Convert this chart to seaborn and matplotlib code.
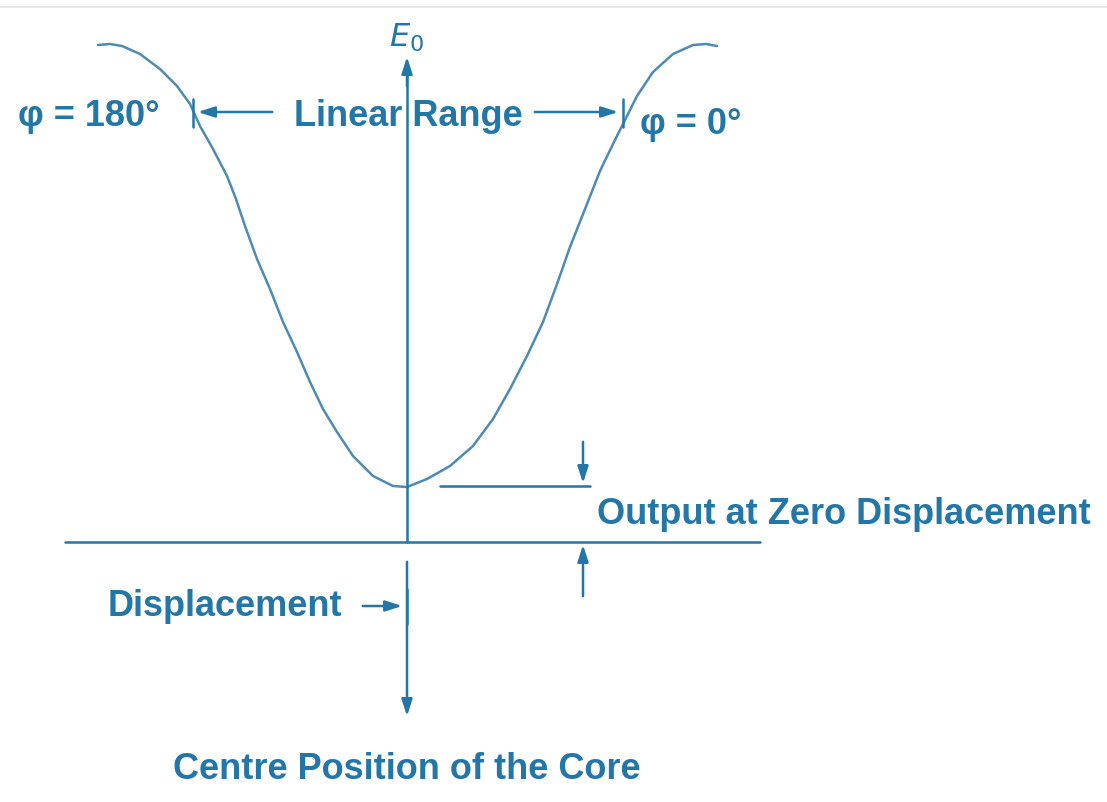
import numpy as np
import pandas as pd
import seaborn as sns
import matplotlib.pyplot as plt

# curve (pixel coords, y down)
curve_x = [98, 110, 122, 140, 160, 177, 190, 200, 213, 227, 236, 245, 257, 270, 283,
           297, 310, 323, 337, 353, 373, 393, 407,
           427, 450, 473, 493, 510, 527, 543, 557, 570, 585, 600, 613, 623,
           637, 653, 673, 693, 706, 717]
curve_y = [46, 45, 47, 55, 70, 87, 105, 127, 150, 177, 200, 227, 260, 290, 323,
           353, 383, 410, 433, 457, 477, 487, 488,
           480, 467, 447, 420, 390, 357, 323, 285, 248, 210, 172, 145, 125,
           97, 73, 55, 46, 45, 47]

labels = ['φ = 180°', 'Linear Range', 'φ = 0°', 'Output at Zero Displacement',
          'Displacement', 'Centre Position of the Core']

sns.set_style("white")
blue = '#2277a8'
curve_col = '#4d8bb3'
font = ['Liberation Sans', 'DejaVu Sans']

fig = plt.figure(figsize=(11.07, 8.03), dpi=100)
ax = fig.add_axes([0, 0, 1, 1])
ax.set_xlim(0, 1107)
ax.set_ylim(803, 0)
ax.axis('off')

df = pd.DataFrame({'x': curve_x, 'y': curve_y})
sns.lineplot(data=df, x='x', y='y', sort=False, color=curve_col, lw=1.8, ax=ax)
ax.lines[-1].set_solid_joinstyle('round')

# axes lines
ax.plot([407, 407], [75, 543], color=blue, lw=1.8)
ax.plot([65, 760], [543, 543], color=blue, lw=1.8)
ax.plot([440, 590], [487, 487], color=blue, lw=1.8)
ax.plot([0, 1107], [8, 8], color='#e4e4e4', lw=1.2)

arr = dict(arrowstyle='-|>,head_length=1.0,head_width=0.32', color=blue, lw=1.8)
ax.annotate('', xy=(407, 55), xytext=(407, 90), arrowprops=arr)
ax.annotate('', xy=(407, 720), xytext=(407, 560), arrowprops=arr)
ax.annotate('', xy=(583, 487), xytext=(583, 440), arrowprops=arr)
ax.annotate('', xy=(583, 543), xytext=(583, 600), arrowprops=arr)
ax.annotate('', xy=(195, 113), xytext=(275, 113), arrowprops=arr)
ax.annotate('', xy=(621, 113), xytext=(532, 113), arrowprops=arr)
ax.annotate('', xy=(405, 607), xytext=(360, 607), arrowprops=arr)
# end bars
ax.plot([193, 193], [100, 128], color=blue, lw=1.8)
ax.plot([623, 623], [100, 128], color=blue, lw=1.8)
ax.plot([407, 407], [590, 625], color=blue, lw=1.8)

kw = dict(color=blue, fontsize=26, fontweight='bold', family=font)
ax.text(18, 117, labels[0], ha='left', va='center', **kw)
ax.text(408, 117, labels[1], ha='center', va='center', **kw)
ax.text(640, 125, labels[2], ha='left', va='center', **kw)
ax.text(597, 515, labels[3], ha='left', va='center', **kw)
ax.text(342, 607, labels[4], ha='right', va='center', **kw)
ax.text(407, 770, labels[5], ha='center', va='center', **kw)
ax.text(407, 38, r'$\mathbf{\mathit{E}}_0$', ha='center', va='center',
        color=blue, fontsize=23)
ax.text(405, 820, '(b)', ha='center', va='center', clip_on=True, **kw)

fig.savefig('out.png', dpi=100)
